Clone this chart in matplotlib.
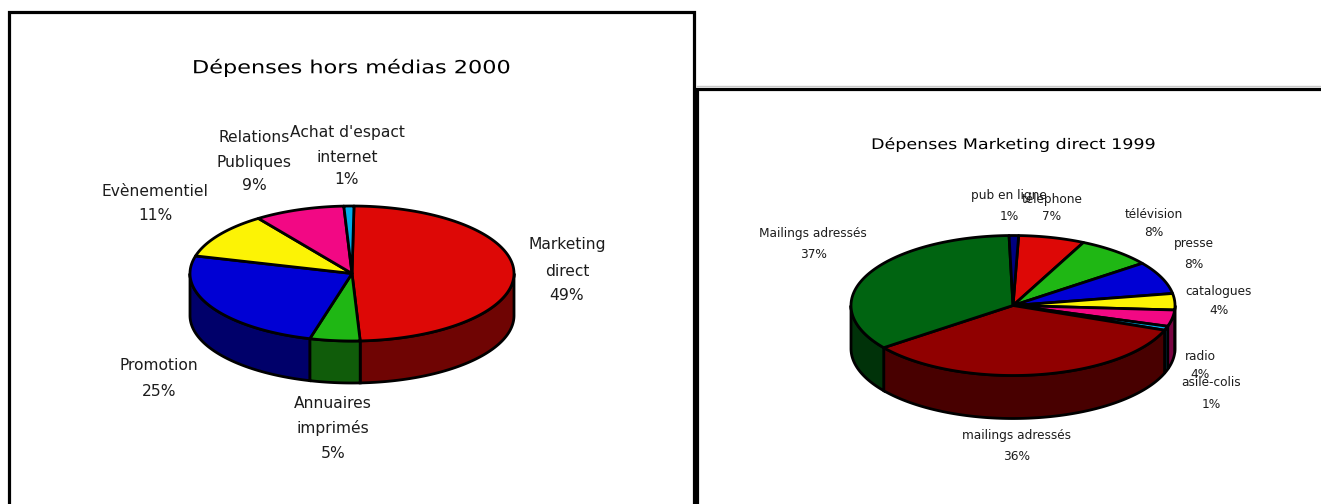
import numpy as np
import matplotlib
matplotlib.use("Agg")
import matplotlib.pyplot as plt
from matplotlib.patches import Polygon
from matplotlib.patheffects import AbstractPathEffect
from matplotlib.transforms import Affine2D

# 2000 non-media spend
names_2000 = ["Marketing\ndirect", "Annuaires\nimprimés", "Promotion", "Evènementiel",
              "Relations\nPubliques", "Achat d'espact\ninternet"]
values_2000 = [49, 5, 25, 11, 9, 1]
colors_2000 = ["#DD0806", "#1FB714", "#0000D4", "#FCF305", "#F20884", "#02ABEA"]

# 1999 direct marketing spend
names_1999 = ["téléphone", "télévision", "presse", "catalogues", "radio", "asile-colis",
              "mailings adressés", "Mailings adressés", "pub en ligne"]
values_1999 = [7, 8, 8, 4, 4, 1, 36, 37, 1]
colors_1999 = ["#DD0806", "#1FB714", "#0000D4", "#FCF305", "#F20884", "#02ABEA",
               "#900000", "#006411", "#000080"]

# label centre x and the y of each line, in pixels
label_pos_2000 = [(567, [245, 271, 295]), (333, [404, 428, 453]), (159, [365, 391]),
                  (155, [192, 216]), (254, [138, 162, 186]), (347, [133, 157, 180])]
label_pos_1999 = [(1052, [199, 216]), (1154, [214, 233]), (1194, [244, 264]),
                  (1219, [292, 311]), (1200, [356, 374]), (1211, [383, 404]),
                  (1017, [436, 457]), (813, [233, 254]), (1009, [196, 216])]


class WideText(AbstractPathEffect):
    # widens text about its own centre, the titles are set very loose
    def __init__(self, factor):
        super().__init__()
        self.factor = factor

    def draw_path(self, renderer, gc, tpath, affine, rgbFace=None):
        box = tpath.get_extents()
        mid = (box.x0 + box.x1) / 2
        wide = Affine2D().translate(-mid, 0).scale(self.factor, 1).translate(mid, 0)
        renderer.draw_path(gc, tpath, wide + affine, rgbFace)


def shade(color):
    # side walls are the top colour at half brightness
    return tuple(c * 0.5 for c in matplotlib.colors.to_rgb(color))


def arc(cx, cy, rx, ry, a0, a1, dy=0):
    # angles run clockwise from twelve o'clock
    t = np.radians(np.linspace(a0, a1, 120))
    return np.column_stack([cx + rx * np.sin(t), cy + dy - ry * np.cos(t)])


def pie3d(ax, values, colors, cx, cy, rx, ry, depth, start, lw):
    total = sum(values)
    edges = start + np.cumsum([0] + list(values)) / total * 360

    # walls first, only the part of each slice facing front
    for i, col in enumerate(colors):
        for lo, hi in [(90, 270), (450, 630)]:
            a0 = max(edges[i], lo)
            a1 = min(edges[i + 1], hi)
            if a1 <= a0:
                continue
            top = arc(cx, cy, rx, ry, a0, a1)
            bottom = arc(cx, cy, rx, ry, a1, a0, depth)
            ax.add_patch(Polygon(np.vstack([top, bottom]), closed=True, fc=shade(col),
                                 ec="black", lw=lw, joinstyle="miter"))

    for i, col in enumerate(colors):
        pts = np.vstack([[cx, cy], arc(cx, cy, rx, ry, edges[i], edges[i + 1])])
        ax.add_patch(Polygon(pts, closed=True, fc=col, ec="black", lw=lw, joinstyle="round"))


def put_labels(ax, names, values, positions, size):
    for name, val, (x, ys) in zip(names, values, positions):
        lines = name.split("\n") + [f"{val}%"]
        for line, y in zip(lines, ys):
            ax.text(x, y, line, ha="center", va="center", fontsize=size, color="#1c1c1c")


fig = plt.figure(figsize=(13.21, 5.04), dpi=100)
ax = fig.add_axes([0, 0, 1, 1])
ax.set_xlim(0, 1321)
ax.set_ylim(504, 0)
ax.axis("off")

# chart frames, both run off the bottom edge
ax.plot([697, 1321], [86, 86], color="#c8c8c8", lw=1.0)
ax.plot([9, 9, 694, 694], [510, 12, 12, 510], color="black", lw=2.3, solid_joinstyle="miter")
ax.plot([697, 697, 1325], [510, 89, 89], color="black", lw=2.3, solid_joinstyle="miter")

pie3d(ax, values_2000, colors_2000, 352, 273.5, 162, 67.5, 42, 0.7, 2.0)
pie3d(ax, values_1999, colors_1999, 1013, 305.5, 162, 70, 43, 2, 2.0)

put_labels(ax, names_2000, values_2000, label_pos_2000, 11.2)
put_labels(ax, names_1999, values_1999, label_pos_1999, 8.7)

t1 = ax.text(351, 68, "Dépenses hors médias 2000", ha="center", va="center", fontsize=13, color="black")
t1.set_path_effects([WideText(1.24)])
t2 = ax.text(1014, 144, "Dépenses Marketing direct 1999", ha="center", va="center", fontsize=10.5, color="black")
t2.set_path_effects([WideText(1.2)])

fig.savefig("out.png", dpi=100)
